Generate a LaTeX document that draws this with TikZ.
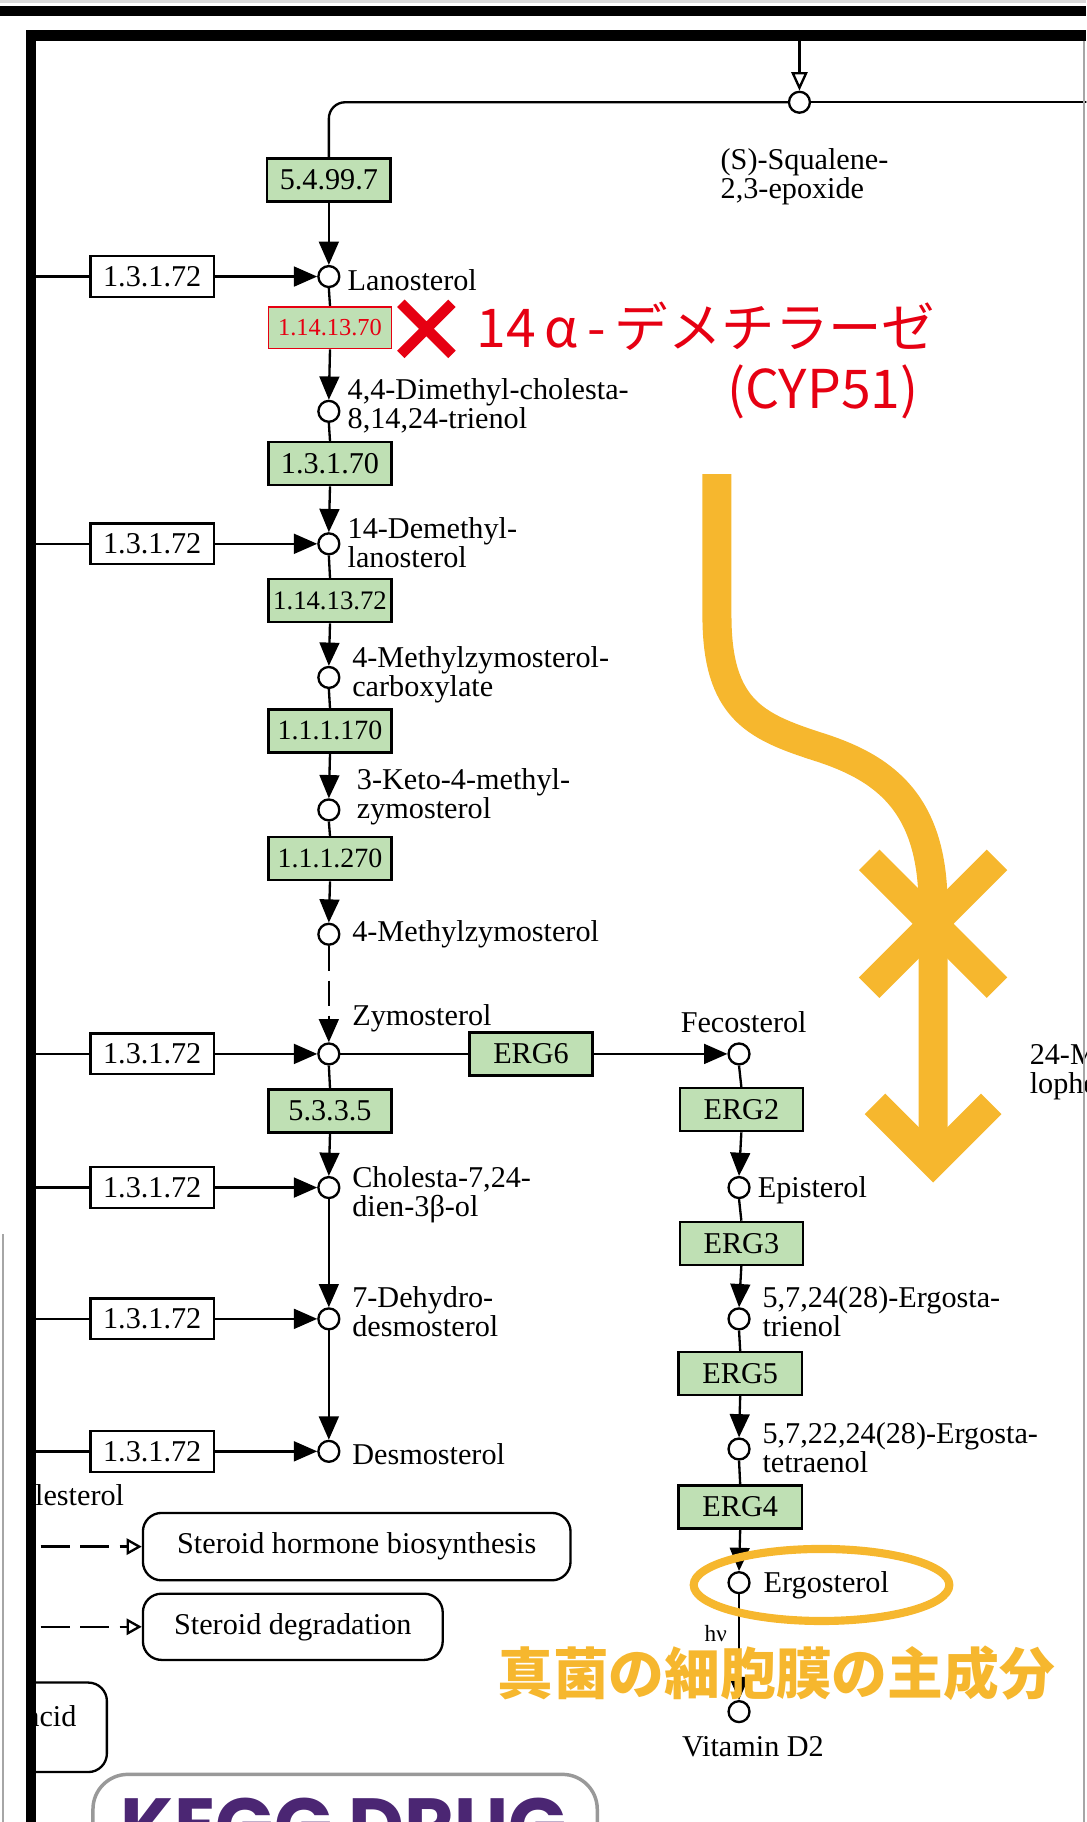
\documentclass[tikz,border=0pt]{standalone}
\usepackage{fontspec}
\setmainfont{Liberation Serif}
\newfontfamily\cjk{Noto Sans CJK JP}
\newfontfamily\logofont{Poppins}
\usetikzlibrary{arrows.meta,calc}
\definecolor{enzgreen}{RGB}{191,224,180}
\definecolor{kred}{RGB}{230,0,18}
\definecolor{korange}{RGB}{246,183,46}
\definecolor{kpurple}{RGB}{75,38,115}
\newcommand\keggsize{\fontsize{26}{25}\selectfont}
\begin{document}
\begin{tikzpicture}[x=1pt,y=-1pt,
  kline/.style={line width=2pt},
  rxn/.style={line width=2pt,-{Triangle[width=17pt,length=20pt]}},
  comp/.style={circle,draw,fill=white,line width=2pt,minimum size=18pt,inner sep=0pt},
  enz/.style={draw,line width=2pt,fill=enzgreen,minimum width=106pt,minimum height=37pt,inner sep=0pt,font=\keggsize},
  ortho/.style={draw,line width=2pt,fill=white,minimum width=106pt,minimum height=35pt,inner sep=0pt,font=\keggsize},
  lbl/.style={anchor=west,align=left,inner sep=0pt,font=\keggsize},
  mapbox/.style={draw,line width=2pt,rounded corners=16pt,fill=white,inner sep=0pt,font=\keggsize},
  linkarrow/.style={line width=2pt,dash pattern=on 25pt off 9pt,-{Triangle[open,width=14pt,length=13pt]}},
  hl/.style={draw=korange,line width=25pt}
]
\useasboundingbox (0,0) rectangle (935,1568);
\begin{scope}
\clip (0,0) rectangle (935,1568);

% ---------- squalene epoxide entry ----------
\node[comp] (sq) at (688,88) {};
\coordinate (sqin) at (688,35);
\coordinate (sqout) at (950,88);
\draw[line width=2pt,-{Triangle[open,width=14pt,length=16pt]}] (sqin) -- (sq.north);
\draw[kline] (sq.east) -- (sqout);
\node[lbl] (sqlbl) at (620,152) {(S)-Squalene-\\2,3-epoxide};

% ---------- main sterol column ----------
\node[enz] (e1) at (283,155) {5.4.99.7};
\draw[kline,rounded corners=14pt] (sq.west) -- (283,88) -- (e1.north);

\node[comp] (lan) at (283,238) {};
\node[lbl] (lanl) at (299,241) {Lanosterol};
\draw[rxn] (e1.south) -- (lan.north);

\node[draw=kred,line width=1.5pt,fill=enzgreen,minimum width=106pt,minimum height=36pt,inner sep=0pt,
      text=kred,font=\fontsize{21}{21}\selectfont] (e2) at (284,282) {1.14.13.70};
\draw[kline] (lan.south) -- (e2.north);

\node[comp] (dmc) at (283,354) {};
\node[lbl] (dmcl) at (299,349) {4,4-Dimethyl-cholesta-\\8,14,24-trienol};
\draw[rxn] (e2.south) -- (dmc.north);

\node[enz] (e3) at (284,399) {1.3.1.70};
\draw[kline] (dmc.south) -- (e3.north);

\node[comp] (dml) at (283,468) {};
\node[lbl] (dmll) at (299,467) {14-Demethyl-\\lanosterol};
\draw[rxn] (e3.south) -- (dml.north);

\node[enz,font=\fontsize{23}{23}\selectfont] (e4) at (284,517) {1.14.13.72};
\draw[kline] (dml.south) -- (e4.north);

\node[comp] (mzc) at (283,583) {};
\node[lbl] (mzcl) at (303,581) {4-Methylzymosterol-\\carboxylate};
\draw[rxn] (e4.south) -- (mzc.north);

\node[enz,font=\fontsize{24}{24}\selectfont] (e5) at (284,629) {1.1.1.170};
\draw[kline] (mzc.south) -- (e5.north);

\node[comp] (kmz) at (283,697) {};
\node[lbl] (kmzl) at (307,686) {3-Keto-4-methyl-\\zymosterol};
\draw[rxn] (e5.south) -- (kmz.north);

\node[enz,font=\fontsize{24}{24}\selectfont] (e6) at (284,739) {1.1.1.270};
\draw[kline] (kmz.south) -- (e6.north);

\node[comp] (mz) at (283,804) {};
\node[lbl] (mzl) at (303,804) {4-Methylzymosterol};
\draw[rxn] (e6.south) -- (mz.north);

\node[comp] (zym) at (283,907) {};
\node[lbl] (zyml) at (303,876) {Zymosterol};
\draw[rxn,dash pattern=on 22pt off 8pt] (mz.south) -- (zym.north);

\node[enz] (e7) at (284,956) {5.3.3.5};
\draw[kline] (zym.south) -- (e7.north);

\node[comp] (chd) at (283,1022) {};
\node[lbl] (chdl) at (303,1028) {Cholesta-7,24-\\dien-3β-ol};
\draw[rxn] (e7.south) -- (chd.north);

\node[comp] (dhd) at (283,1135) {};
\node[lbl] (dhdl) at (303,1129) {7-Dehydro-\\desmosterol};
\draw[rxn] (chd.south) -- (dhd.north);

\node[comp] (des) at (283,1249) {};
\node[lbl] (desl) at (303,1251) {Desmosterol};
\draw[rxn] (dhd.south) -- (des.north);

% ---------- side reductase boxes ----------
\foreach \nm/\yy/\tgt in {o1/238/lan, o2/468/dml, o3/907/zym, o4/1022/chd, o5/1135/dhd, o6/1249/des}{
  \node[ortho] (\nm) at (131,\yy) {1.3.1.72};
  \coordinate (\nm in) at (20,\yy);
  \draw[kline] (\nm in) -- (\nm.west);
  \draw[rxn] (\nm.east) -- (\tgt.west);
}

% ---------- ergosterol branch ----------
\node[enz] (erg6) at (457,907) {ERG6};
\node[comp] (fec) at (636,907) {};
\node[anchor=south,inner sep=0pt,font=\keggsize] (fecl) at (640,889) {Fecosterol};
\draw[kline] (zym.east) -- (erg6.west);
\draw[rxn] (erg6.east) -- (fec.west);

\node[enz] (erg2) at (638,955) {ERG2};
\draw[kline] (fec.south) -- (erg2.north);
\node[comp] (epi) at (636,1022) {};
\node[lbl] (epil) at (652,1024) {Episterol};
\draw[rxn] (erg2.south) -- (epi.north);

\node[enz] (erg3) at (638,1070) {ERG3};
\draw[kline] (epi.south) -- (erg3.north);
\node[comp] (etr) at (636,1135) {};
\node[lbl] (etrl) at (656,1129) {5,7,24(28)-Ergosta-\\trienol};
\draw[rxn] (erg3.south) -- (etr.north);

\node[enz] (erg5) at (637,1182) {ERG5};
\draw[kline] (etr.south) -- (erg5.north);
\node[comp] (ete) at (636,1247) {};
\node[lbl] (etel) at (656,1246) {5,7,22,24(28)-Ergosta-\\tetraenol};
\draw[rxn] (erg5.south) -- (ete.north);

\node[enz] (erg4) at (637,1297) {ERG4};
\draw[kline] (ete.south) -- (erg4.north);
\node[comp] (ergo) at (636,1362) {};
\node[lbl] (ergol) at (657,1364) {Ergosterol};
\draw[rxn] (erg4.south) -- (ergo.north);

\node[comp] (vd2) at (636,1473) {};
\node[anchor=north,inner sep=0pt,font=\keggsize] (vd2l) at (648,1494) {Vitamin D2};
\draw[rxn] (ergo.south) -- (vd2.north);
\node[inner sep=0pt,font=\fontsize{20}{20}\selectfont] (hv) at (616,1406) {hν};

\node[lbl] (mlop) at (886,922) {24-Methylene-\\lophenol};

% ---------- pathway map links ----------
\node[anchor=east,inner sep=0pt,font=\keggsize] (chol) at (107,1287) {Cholesterol};
\node[mapbox,minimum width=368pt,minimum height=58pt] (shb) at (307,1331) {Steroid hormone biosynthesis};
\node[mapbox,minimum width=258pt,minimum height=57pt] (sdg) at (252,1400) {Steroid degradation};
\coordinate (shbin) at (35,1331);
\coordinate (sdgin) at (35,1400);
\draw[linkarrow] (shbin) -- (shb.west);
\draw[linkarrow] (sdgin) -- (sdg.west);
\draw[line width=2pt,rounded corners=16pt] (-40,1448) rectangle (92,1525);
\node[anchor=east,inner sep=0pt,font=\keggsize] (acid) at (66,1477) {acid};

% KEGG DRUG logo box
\draw[line width=3pt,draw=gray!80,fill=white,rounded corners=30pt] (80,1527) rectangle (514,1640);
\node[anchor=base,inner sep=0pt,text=kpurple,font=\logofont\bfseries\fontsize{66}{66}\selectfont] (logo) at (296,1594) {KEGG DRUG};

% ---------- map frame ----------
\fill[white] (-10,36) rectangle (22,1580);
\fill[black!15] (0,0) rectangle (935,3);
\fill[black] (0,5) rectangle (935,14);
\fill[black] (22,26) rectangle (935,35);
\fill[black] (22,26) rectangle (31,1580);
\draw[gray!70,line width=1.5pt] (933,35) -- (933,1580);
\draw[gray!70,line width=1.5pt] (2.5,1062) -- (2.5,1580);

% ---------- annotations ----------
\draw[kred,line width=9pt] (345,261) -- (389,305) (389,261) -- (345,305);
\node[anchor=west,inner sep=0pt,text=kred,font=\cjk\fontsize{46}{46}\selectfont] (cyp) at (410,281) {14\,α\,-\,デメチラーゼ};
\node[inner sep=0pt,text=kred,font=\cjk\fontsize{46}{46}\selectfont] (cyp2) at (708,337) {(CYP51)};

\draw[hl] (617,408) -- (617,530) .. controls (617,610) and (650,625) .. (702,642)
          .. controls (760,660) and (803,690) .. (803,780) -- (803,1000);
\draw[hl] (748,740) -- (858,850) (858,740) -- (748,850);
\draw[hl,miter limit=4] (753,950) -- (803,1000) -- (853,950);

\draw[korange,line width=7pt] (707,1364) ellipse [x radius=110, y radius=31];
\node[inner sep=0pt,text=korange,font=\cjk\bfseries\fontsize{48}{48}\selectfont] (memb) at (668,1440) {真菌の細胞膜の主成分};
\end{scope}
\end{tikzpicture}
\end{document}
